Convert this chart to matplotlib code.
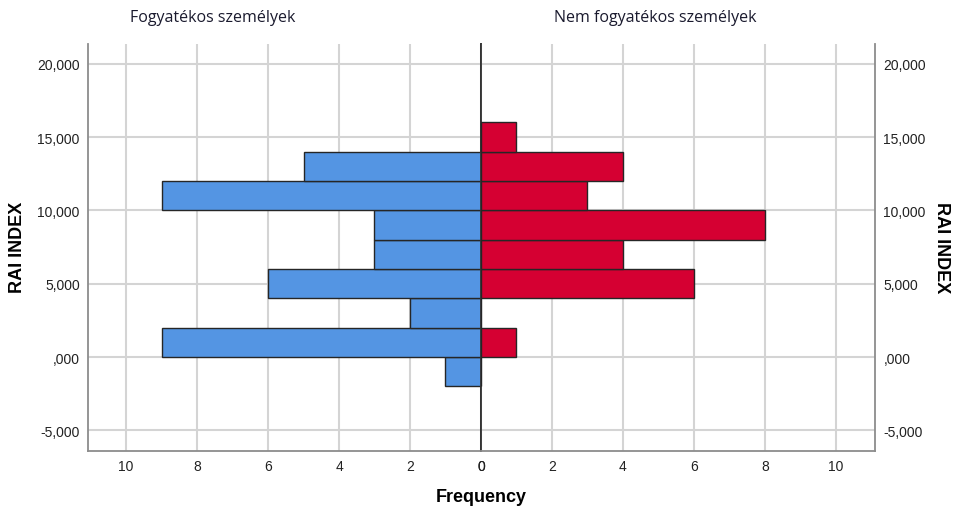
import numpy as np
import matplotlib.pyplot as plt

# RAI INDEX bins (lower edges, width 2) and frequencies
bin_lower = [-2, 0, 2, 4, 6, 8, 10, 12, 14]
bin_width = 2
fogyatekos = [1, 9, 2, 6, 3, 3, 9, 5, 0]
nem_fogyatekos = [0, 1, 0, 6, 4, 8, 3, 4, 1]
y_ticks = [-5, 0, 5, 10, 15, 20]
x_ticks = [0, 2, 4, 6, 8, 10]


def fmt(v):
    s = f"{v:.3f}".replace('.', ',')
    if s.startswith('0,'):
        s = s[1:]
    return s


fig = plt.figure(figsize=(9.57, 5.10), dpi=100)
ax_l = fig.add_axes([0.092, 0.1137, 0.4106, 0.7981])
ax_r = fig.add_axes([0.5026, 0.1137, 0.4117, 0.7981])

grid_c = '#d4d4d4'
spine_c = '#8c8c8c'
centers = np.array(bin_lower) + bin_width / 2

for ax, vals, col in [(ax_l, fogyatekos, '#5495e3'), (ax_r, nem_fogyatekos, '#d50032')]:
    ax.barh(centers, vals, height=bin_width, color=col, edgecolor='#262626', linewidth=1, zorder=3)
    ax.set_ylim(-6.41, 21.35)
    ax.set_xticks(x_ticks)
    ax.set_yticks(y_ticks)
    ax.grid(True, color=grid_c, linewidth=1.5, zorder=0)
    ax.tick_params(length=0, labelsize=10, pad=6, colors='#222222')
    ax.spines['top'].set_visible(False)
    for s in ax.spines.values():
        s.set_color(spine_c)
        s.set_linewidth(1.3)
    for lab in ax.get_xticklabels() + ax.get_yticklabels():
        lab.set_family('Liberation Sans')

ax_l.set_xlim(11.07, 0)
ax_r.set_xlim(0, 11.1)
ax_l.set_yticklabels([fmt(v) for v in y_ticks], family='Liberation Sans')
ax_r.set_yticklabels([fmt(v) for v in y_ticks], family='Liberation Sans')
ax_r.yaxis.tick_right()
ax_l.spines['right'].set_color('#333333')
ax_r.spines['left'].set_color('#333333')

fig.text(0.018, 0.515, 'RAI INDEX', rotation=90, ha='center', va='center',
         fontsize=13, fontweight='bold', family='Liberation Sans')
fig.text(0.984, 0.515, 'RAI INDEX', rotation=-90, ha='center', va='center',
         fontsize=13, fontweight='bold', family='Liberation Sans')

fig.text(0.222, 0.965, 'Fogyatékos személyek', ha='center', va='center',
         fontsize=11.5, family='Open Sans', color='#1a1a2e')
fig.text(0.685, 0.965, 'Nem fogyatékos személyek', ha='center', va='center',
         fontsize=11.5, family='Open Sans', color='#1a1a2e')
fig.text(0.5026, 0.025, 'Frequency', ha='center', va='center',
         fontsize=13, fontweight='bold', family='Liberation Sans')

fig.savefig('out.png', dpi=100)
